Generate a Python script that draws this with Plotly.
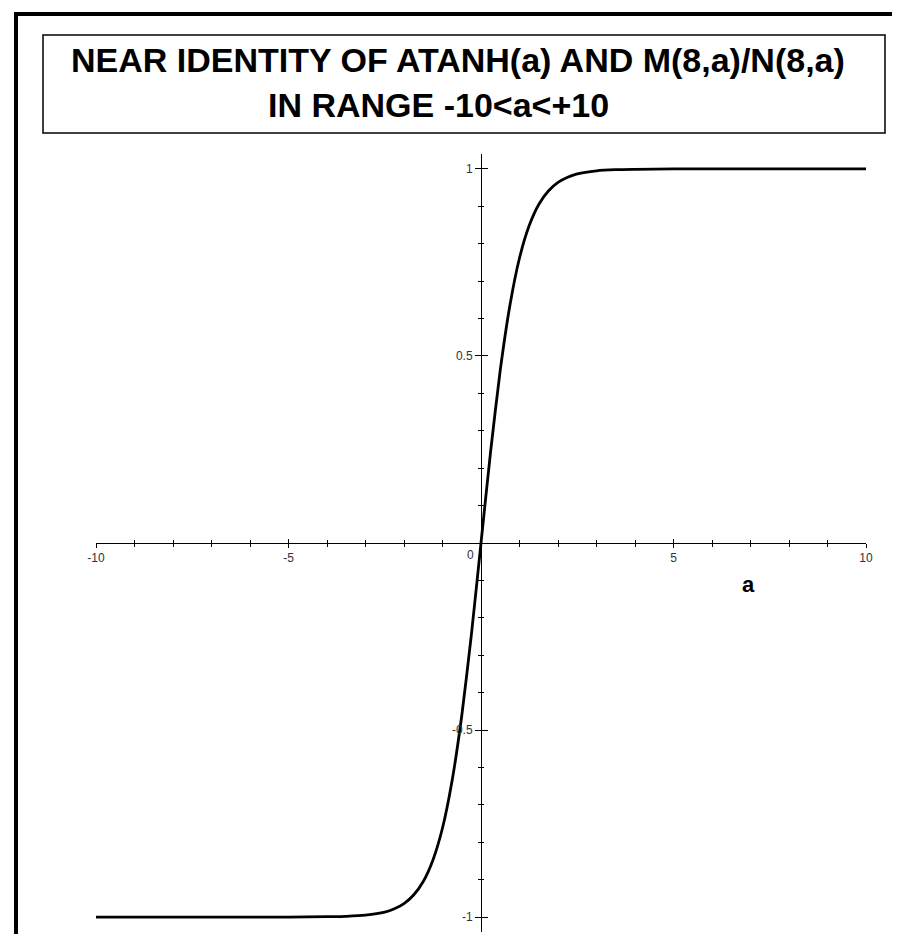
import plotly.graph_objects as go

# ---- data ----
a_vals = [-10, -8, -6, -5, -4, -3.5, -3, -2.5, -2.25, -2, -1.75, -1.5, -1.25, -1, -0.75, -0.5, -0.25,
          0, 0.25, 0.5, 0.75, 1, 1.25, 1.5, 1.75, 2, 2.25, 2.5, 3, 3.5, 4, 5, 6, 8, 10]
ratio_vals = [-1.0, -1.0, -1.0, -1.0, -0.999, -0.998, -0.995, -0.987, -0.978, -0.964, -0.941, -0.905,
              -0.848, -0.762, -0.635, -0.462, -0.245,
              0.0, 0.245, 0.462, 0.635, 0.762, 0.848, 0.905, 0.941, 0.964, 0.978, 0.987, 0.995, 0.998,
              0.999, 1.0, 1.0, 1.0, 1.0]

x_tickvals = [-10, -5, 5, 10]
x_ticktext = ["-10", "-5", "5", "10"]
x_minor = [-10, -9, -8, -7, -6, -5, -4, -3, -2, -1, 0, 1, 2, 3, 4, 5, 6, 7, 8, 9, 10]
y_tickvals = [-1, -0.5, 0.5, 1]
y_ticktext = ["-1", "-0.5", "0.5", "1"]
y_minor = [-1.0, -0.9, -0.8, -0.7, -0.6, -0.5, -0.4, -0.3, -0.2, -0.1, 0.0,
           0.1, 0.2, 0.3, 0.4, 0.5, 0.6, 0.7, 0.8, 0.9, 1.0]

title_line1 = "NEAR IDENTITY OF ATANH(a) AND M(8,a)/N(8,a)"
title_line2 = "IN RANGE -10&lt;a&lt;+10"
x_label = "a"

W, H = 900, 934
X_RANGE = [-10, 10]
Y_RANGE = [-1.04, 1.04]
XDOM = [88 / W, 858 / W]
YDOM = [1 - 924 / H, 1 - 146 / H]
XPOS = 473 / W          # paper position of the vertical axis
YPOS = 1 - 535 / H      # paper position of the horizontal axis

tick_font = dict(family="Liberation Sans, Arial, sans-serif", size=12, color="#333333")

fig = go.Figure()
fig.add_trace(go.Scatter(x=a_vals, y=ratio_vals, mode="lines",
                         line=dict(color="black", width=2.8, shape="spline", smoothing=0.6),
                         showlegend=False, hoverinfo="skip"))
# invisible trace to create the mirrored axis pair (ticks on the other side)
fig.add_trace(go.Scatter(x=[None], y=[None], xaxis="x2", yaxis="y2", showlegend=False,
                         hoverinfo="skip", mode="lines"))

common_x = dict(range=X_RANGE, domain=XDOM, anchor="free", position=YPOS, showgrid=False,
                zeroline=False, showline=True, linecolor="black", linewidth=1,
                tickmode="array", tickvals=x_tickvals, ticktext=x_ticktext,
                tickcolor="black", tickwidth=1, fixedrange=True)
common_y = dict(range=Y_RANGE, domain=YDOM, anchor="free", position=XPOS, showgrid=False,
                zeroline=False, showline=True, linecolor="black", linewidth=1,
                tickmode="array", tickvals=y_tickvals, ticktext=y_ticktext,
                tickcolor="black", tickwidth=1, fixedrange=True)

fig.update_layout(
    width=W, height=H,
    margin=dict(l=0, r=0, t=0, b=0, autoexpand=False),
    paper_bgcolor="white", plot_bgcolor="rgba(0,0,0,0)",
    xaxis=dict(**common_x, ticks="outside", ticklen=4, showticklabels=True, tickfont=tick_font,
               minor=dict(tickmode="array", tickvals=x_minor, ticks="outside", ticklen=3,
                          tickcolor="black", tickwidth=1)),
    yaxis=dict(**common_y, ticks="outside", ticklen=6, showticklabels=True, tickfont=tick_font,
               minor=dict(tickmode="array", tickvals=y_minor, ticks="outside", ticklen=3,
                          tickcolor="black", tickwidth=1)),
    xaxis2=dict(**common_x, overlaying="x", ticks="inside", ticklen=4, showticklabels=False,
                minor=dict(tickmode="array", tickvals=x_minor, ticks="inside", ticklen=3,
                           tickcolor="black", tickwidth=1)),
    yaxis2=dict(**common_y, overlaying="y", ticks="inside", ticklen=6, showticklabels=False,
                minor=dict(tickmode="array", tickvals=y_minor, ticks="inside", ticklen=2,
                           tickcolor="black", tickwidth=1)),
    showlegend=False,
)

# outer frame
fig.add_shape(type="rect", xref="paper", yref="paper", x0=8 / W, x1=894 / W, y0=-0.05, y1=1 - 6 / H,
              line=dict(color="black", width=4), fillcolor="rgba(0,0,0,0)", layer="above")
# title box
fig.add_shape(type="rect", xref="paper", yref="paper", x0=35 / W, x1=877 / W, y0=1 - 125 / H, y1=1 - 27 / H,
              line=dict(color="black", width=1.5), fillcolor="white", layer="below")

title_font = dict(family="Liberation Sans, Arial, sans-serif", size=34, color="black")
fig.add_annotation(xref="paper", yref="paper", x=450 / W, y=1 - 52 / H, text="<b>" + title_line1 + "</b>",
                   showarrow=False, font=title_font, xanchor="center", yanchor="middle")
fig.add_annotation(xref="paper", yref="paper", x=430 / W, y=1 - 97 / H, text="<b>" + title_line2 + "</b>",
                   showarrow=False, font=title_font, xanchor="center", yanchor="middle")

# origin label "0" and axis label "a"
fig.add_annotation(x=0, y=0, text="0", showarrow=False, font=tick_font,
                   xanchor="right", yanchor="top", xshift=-5, yshift=-3)
fig.add_annotation(x=6.95, y=-0.112, text="<b>" + x_label + "</b>", showarrow=False,
                   font=dict(family="Liberation Sans, Arial, sans-serif", size=22, color="black"),
                   xanchor="center", yanchor="middle")

fig.write_html("out.html")
